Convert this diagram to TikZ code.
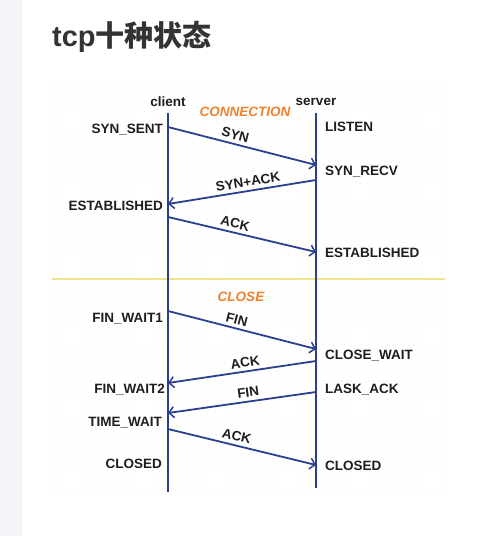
\documentclass[tikz,border=0pt]{standalone}
\usepackage{fontspec}
\setmainfont{Liberation Sans}
\newfontfamily\cjk{Noto Sans CJK SC}
\usetikzlibrary{arrows.meta}
\definecolor{lineblue}{HTML}{2B3F91}
\definecolor{orangelbl}{HTML}{F0802A}
\definecolor{yel}{HTML}{EEE48C}
\definecolor{strip}{HTML}{F4F5F9}
\definecolor{titlec}{HTML}{333333}
\definecolor{txt}{HTML}{1E1E1E}
\definecolor{dotc}{HTML}{E6E6E6}
\begin{document}
\begin{tikzpicture}[x=1pt,y=-1pt,
  state/.style={font=\fontsize{13.5}{15}\selectfont\bfseries, text=txt, inner sep=0pt},
  side/.style={font=\fontsize{13.5}{15}\selectfont\bfseries, text=txt, inner sep=0pt},
  phase/.style={font=\fontsize{13.5}{15}\selectfont\bfseries\itshape, text=orangelbl, inner sep=0pt},
  life/.style={draw=lineblue, line width=1.8pt},
  msg/.style={draw=lineblue, line width=1.8pt, -{Straight Barb[length=5pt,width=11pt,line width=1.5pt]}},
  msglbl/.style={font=\fontsize{13.5}{15}\selectfont\bfseries, text=txt, sloped, above, inner sep=3.5pt}]
\useasboundingbox (0,0) rectangle (500,536);
\fill[white] (0,0) rectangle (500,536);
\fill[strip] (0,0) rectangle (22,536);
% title
\node[anchor=base west, inner sep=0pt, text=titlec, font=\fontsize{29}{32}\selectfont] (title) at (52,46) {\textbf{tcp}{\cjk\bfseries 十种状态}};
% dotted grid
\foreach \i in {0,...,43} {
  \foreach \j in {0,...,45} {
    \fill[dotc] (54+9*\i, 84+9*\j) circle (0.6);
  }
}
% separator
\draw[yel, line width=2pt] (52,279) -- (445,279);
% lifelines
\coordinate (ctop) at (168,113);
\coordinate (cbot) at (168,492);
\coordinate (stop) at (316,113);
\coordinate (sbot) at (316,488);
\draw[life] (ctop) -- (cbot);
\draw[life] (stop) -- (sbot);
\node[side, anchor=base] (client) at (168,106) {client};
\node[side, anchor=base] (server) at (316,105) {server};
\node[phase, anchor=base] (conn) at (245,116) {CONNECTION};
\node[phase, anchor=base] (close) at (241,301) {CLOSE};
% message endpoints
\coordinate (c1) at (168,127);  \coordinate (s1) at (316,165);
\coordinate (s2) at (316,180);  \coordinate (c2) at (168,204);
\coordinate (c3) at (168,217);  \coordinate (s3) at (316,252);
\coordinate (c4) at (168,311);  \coordinate (s4) at (316,349);
\coordinate (s5) at (316,361);  \coordinate (c5) at (168,383);
\coordinate (s6) at (316,392);  \coordinate (c6) at (168,413);
\coordinate (c7) at (168,429);  \coordinate (s7) at (316,465);
% messages
\draw[msg] (c1) -- node[msglbl, pos=0.44] {SYN} (s1);
\draw[msg] (s2) -- node[msglbl, pos=0.45] {SYN+ACK} (c2);
\draw[msg] (c3) -- node[msglbl, pos=0.44] {ACK} (s3);
\draw[msg] (c4) -- node[msglbl, pos=0.45] {FIN} (s4);
\draw[msg] (s5) -- node[msglbl, pos=0.47] {ACK} (c5);
\draw[msg] (s6) -- node[msglbl, pos=0.45] {FIN} (c6);
\draw[msg] (c7) -- node[msglbl, pos=0.45] {ACK} (s7);
% client states
\node[state, anchor=base east] (synsent) at (163,133) {SYN\_SENT};
\node[state, anchor=base east] (estc) at (163,210) {ESTABLISHED};
\node[state, anchor=base east] (fw1) at (163,322) {FIN\_WAIT1};
\node[state, anchor=base east] (fw2) at (165,393) {FIN\_WAIT2};
\node[state, anchor=base east] (tw) at (162,426) {TIME\_WAIT};
\node[state, anchor=base east] (closedc) at (162,468) {CLOSED};
% server states
\node[state, anchor=base west] (listen) at (325,131) {LISTEN};
\node[state, anchor=base west] (synrecv) at (325,175) {SYN\_RECV};
\node[state, anchor=base west] (ests) at (325,257) {ESTABLISHED};
\node[state, anchor=base west] (cw) at (325,359) {CLOSE\_WAIT};
\node[state, anchor=base west] (lask) at (325,393) {LASK\_ACK};
\node[state, anchor=base west] (closeds) at (325,470) {CLOSED};
\end{tikzpicture}
\end{document}
